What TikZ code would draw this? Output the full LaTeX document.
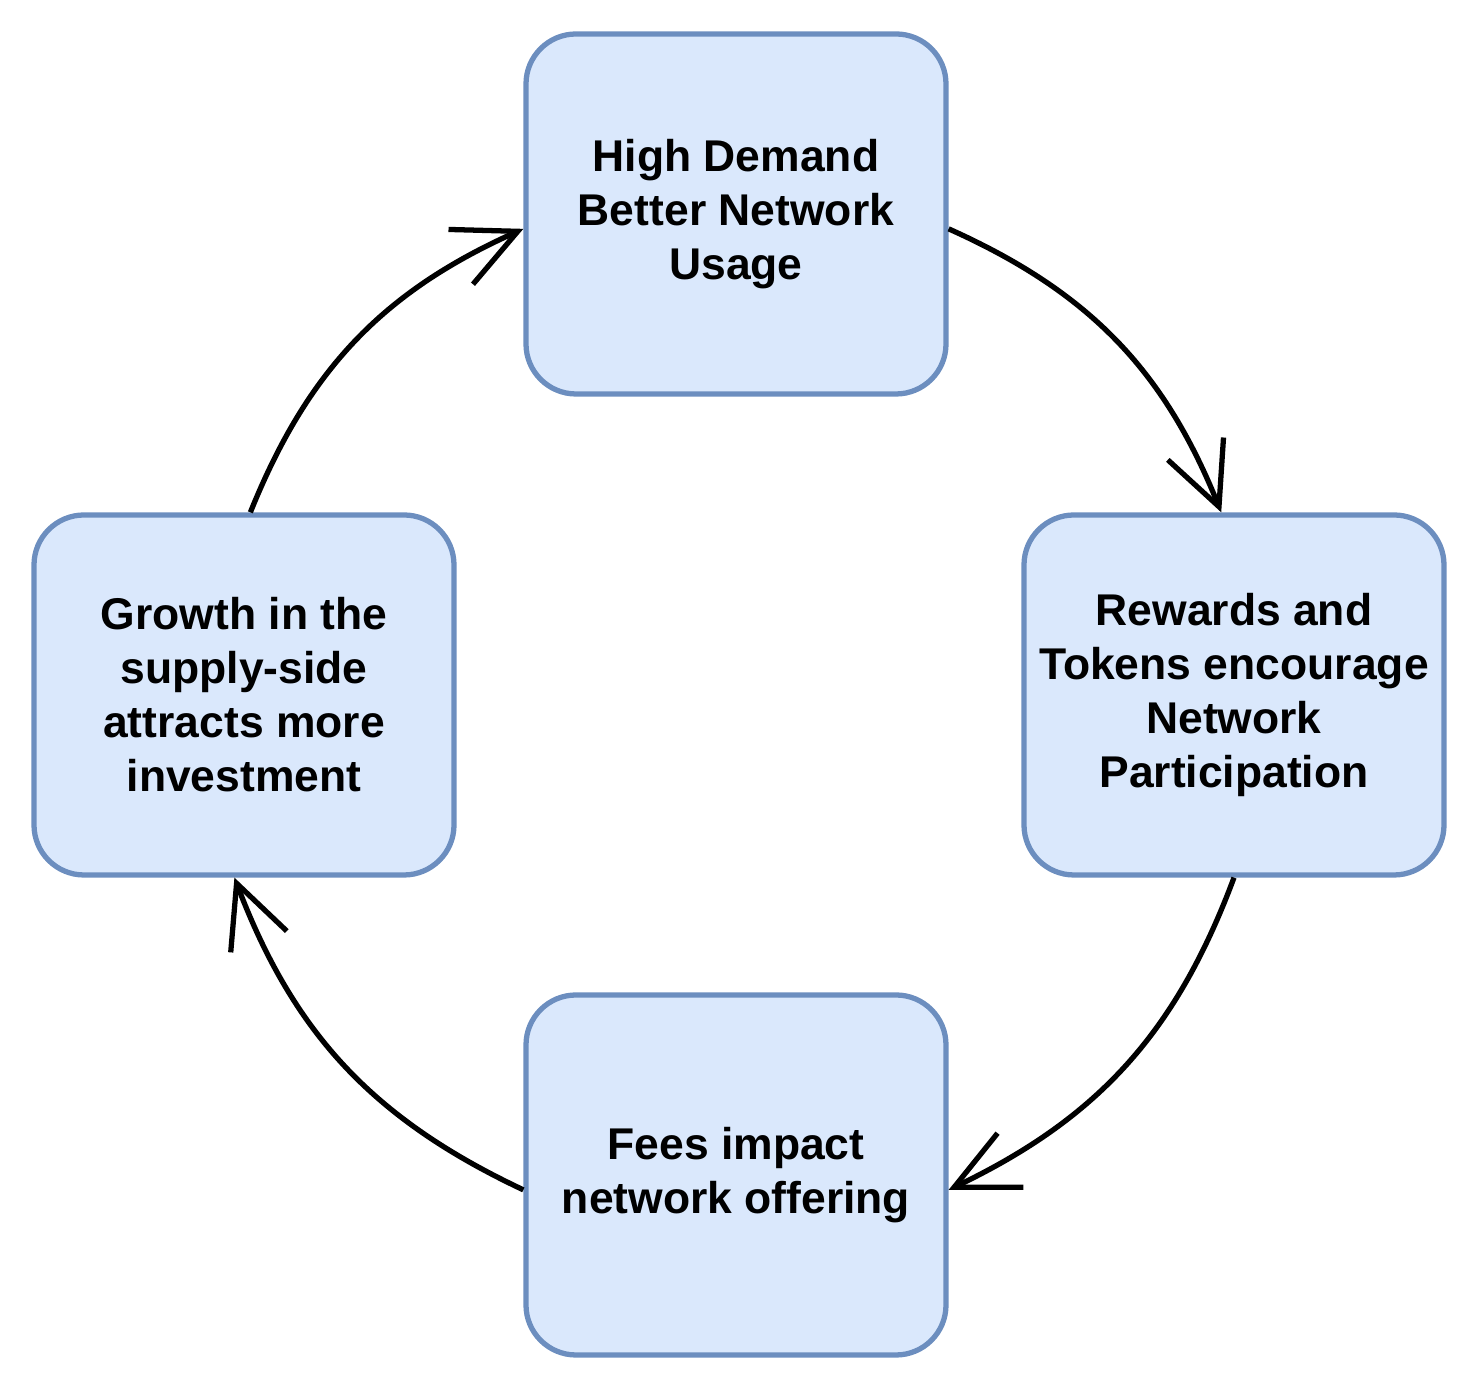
\documentclass[tikz,border=0pt]{standalone}
\usepackage{fontspec}
\setmainfont{Liberation Sans}
\usepackage{tikz}
\usetikzlibrary{arrows.meta}
\usetikzlibrary{positioning}
\definecolor{mfill}{HTML}{DAE8FC}
\definecolor{mline}{HTML}{6C8EBF}
\tikzset{stage/.style = {draw = mline, fill = mfill, line width = 3pt, rounded corners = 1cm,
    minimum width = 8.4cm, minimum height = 7.2cm, align = center,
    font = \fontsize{25.3}{30.7}\selectfont\bfseries}}
\tikzset{flow/.style = {draw = black, line width = 3pt, -{Straight Barb[length = 1.25cm, width = 1.2cm, line width = 3pt]}}}

\begin{document}
\begin{tikzpicture}
    \useasboundingbox (0, 0) rectangle (29.58, 27.78);

    \node [stage] (demand) at (14.72, 23.5) {High Demand\\Better Network\\Usage};
    \node [stage] (rewards) at (24.68, 13.88) {Rewards and\\Tokens encourage\\Network\\Participation};
    \node [stage] (fees) at (14.72, 4.28) {Fees impact\\network offering};
    \node [stage] (growth) at (4.88, 13.88) {Growth in the\\supply-side\\attracts more\\investment};

    \draw [flow] (demand.-4) to [bend left = 22] (rewards.94);
    \draw [flow] (rewards.south) to [bend left = 22] (fees.-4);
    \draw [flow] (fees.184) to [bend left = 22] (growth.267);
    \draw [flow] (growth.88) to [bend left = 22] (demand.184);
  \end{tikzpicture}
\end{document}
